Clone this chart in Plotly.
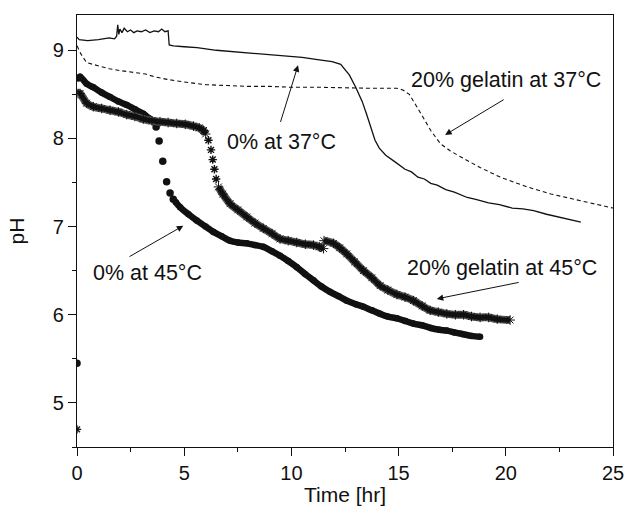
import plotly.graph_objects as go

# ---------------- data ----------------
# 0% at 37°C (solid line)
s37_t = [0, 0.1, 0.5, 1.0, 1.5, 1.75, 1.85, 1.9, 1.95, 2.0, 2.1, 2.2, 2.35, 2.5, 2.65, 2.8,
         3.0, 3.2, 3.4, 3.6, 3.8, 3.95, 4.1, 4.25, 4.3, 4.5, 5.0, 5.6, 6.5, 7.5, 8.5, 9.5,
         10.5, 11.3, 11.9, 12.3, 12.7, 13.0, 13.3, 13.5, 13.7, 13.9, 14.1, 14.4, 14.8, 15.3,
         15.6, 15.9, 16.2, 16.5, 16.8, 17.2, 17.6, 18.2, 18.6, 19.2, 19.7, 20.3, 20.8, 21.3,
         21.9, 22.4, 23.0, 23.5]
s37_ph = [9.15, 9.12, 9.11, 9.12, 9.14, 9.13, 9.16, 9.29, 9.18, 9.24, 9.20, 9.25, 9.21, 9.23,
          9.20, 9.22, 9.21, 9.23, 9.20, 9.22, 9.21, 9.24, 9.21, 9.22, 9.06, 9.05, 9.04, 9.03,
          9.00, 8.98, 8.96, 8.94, 8.92, 8.89, 8.87, 8.84, 8.72, 8.58, 8.42, 8.28, 8.12, 7.98,
          7.89, 7.81, 7.74, 7.65, 7.62, 7.56, 7.54, 7.49, 7.47, 7.42, 7.39, 7.33, 7.31, 7.27,
          7.25, 7.21, 7.20, 7.18, 7.14, 7.11, 7.08, 7.05]

# 20% gelatin at 37°C (dashed line)
g37_t = [0, 0.2, 0.45, 1.0, 1.5, 2.0, 2.6, 3.2, 3.6, 4.2, 5.0, 6.0, 7.0, 8.0, 9.0, 10.0, 11.3,
         12.5, 13.5, 14.5, 14.9, 15.2, 15.5, 15.85, 16.2, 16.5, 16.95, 17.4, 17.9, 18.8, 19.75,
         21.0, 22.1, 23.5, 25.0]
g37_ph = [9.05, 8.95, 8.86, 8.82, 8.79, 8.77, 8.75, 8.73, 8.70, 8.67, 8.64, 8.61, 8.60, 8.59,
          8.59, 8.58, 8.58, 8.57, 8.57, 8.57, 8.57, 8.55, 8.50, 8.36, 8.22, 8.09, 7.94, 7.86,
          7.79, 7.67, 7.56, 7.45, 7.37, 7.29, 7.21]

# 0% at 45°C (filled circles)
c45_t_start = [0]
c45_ph_start = [5.45]
c45_t_a = [0.05, 0.14, 0.45, 0.76, 1.15, 1.54, 1.93, 2.32, 2.7, 3.09, 3.35, 3.56]
c45_ph_a = [8.68, 8.70, 8.62, 8.58, 8.52, 8.47, 8.42, 8.38, 8.33, 8.28, 8.23, 8.19]
c45_t_jump = [3.69, 3.83, 4.0, 4.18, 4.34, 4.49]
c45_ph_jump = [8.13, 7.97, 7.74, 7.51, 7.38, 7.31]
c45_t_b = [4.6, 4.81, 5.2, 5.58, 6.0, 6.36, 6.75, 7.14, 7.5, 7.92, 8.3, 8.69, 9.1, 9.47, 9.85,
           10.25, 10.65, 11.03, 11.4, 11.8, 12.2, 12.58, 13.0, 13.36, 13.75, 14.14, 14.5,
           14.92, 15.3, 15.69, 16.1, 16.5, 16.9, 17.25, 17.6, 18.0, 18.4, 18.8]
c45_ph_b = [7.28, 7.22, 7.14, 7.07, 7.00, 6.94, 6.89, 6.84, 6.82, 6.81, 6.79, 6.77, 6.72, 6.67,
            6.61, 6.54, 6.46, 6.39, 6.32, 6.26, 6.21, 6.16, 6.12, 6.09, 6.05, 6.01, 5.98, 5.96,
            5.93, 5.90, 5.88, 5.85, 5.83, 5.82, 5.80, 5.78, 5.76, 5.75]

# 20% gelatin at 45°C (asterisks)
g45_t_start = [0]
g45_ph_start = [4.7]
g45_t_a = [0.05, 0.14, 0.45, 0.76, 1.15, 1.54, 1.93, 2.32, 2.7, 3.09, 3.5, 3.87, 4.25, 4.65,
           5.05, 5.43, 5.7, 5.9, 6.0]
g45_ph_a = [8.51, 8.51, 8.40, 8.36, 8.34, 8.32, 8.30, 8.27, 8.25, 8.22, 8.20, 8.19, 8.18, 8.17,
            8.16, 8.14, 8.12, 8.09, 8.05]
g45_t_jump = [6.13, 6.25, 6.33, 6.41, 6.49]
g45_ph_jump = [7.98, 7.87, 7.76, 7.65, 7.54]
g45_t_b = [6.6, 6.8, 7.14, 7.5, 7.92, 8.3, 8.69, 9.1, 9.47, 9.85, 10.25, 10.65, 11.03, 11.3, 11.5]
g45_ph_b = [7.45, 7.37, 7.26, 7.19, 7.11, 7.04, 6.98, 6.92, 6.86, 6.84, 6.82, 6.80, 6.79, 6.77, 6.75]
g45_t_c = [11.52, 11.96, 12.25, 12.58, 12.95, 13.36, 13.75, 14.14, 14.5, 14.92, 15.3, 15.69,
           16.1, 16.47, 16.85, 17.25, 17.65, 18.03, 18.4, 18.8, 19.2, 19.6, 20.2]
g45_ph_c = [6.84, 6.81, 6.76, 6.69, 6.60, 6.50, 6.42, 6.33, 6.28, 6.23, 6.20, 6.16, 6.10, 6.05,
            6.03, 6.01, 6.00, 6.00, 5.98, 5.97, 5.97, 5.95, 5.94]

x_ticks = [0, 5, 10, 15, 20, 25]
y_ticks = [5, 6, 7, 8, 9]

FONT = "Liberation Sans, Arial, Helvetica, sans-serif"
INK = "#111111"

fig = go.Figure()

# solid & dashed lines
fig.add_trace(go.Scatter(x=s37_t, y=s37_ph, mode="lines",
                         line=dict(color=INK, width=1.3), hoverinfo="skip"))
fig.add_trace(go.Scatter(x=g37_t, y=g37_ph, mode="lines",
                         line=dict(color=INK, width=1.1, dash="4px,3px"), hoverinfo="skip"))

# circles series
for tx, ty in [(c45_t_a, c45_ph_a), (c45_t_b, c45_ph_b)]:
    fig.add_trace(go.Scatter(x=tx, y=ty, mode="lines+markers",
                             line=dict(color=INK, width=6.5, shape="spline"),
                             marker=dict(symbol="circle", size=6.5, color=INK),
                             hoverinfo="skip"))
for tx, ty in [(c45_t_start, c45_ph_start), (c45_t_jump, c45_ph_jump)]:
    fig.add_trace(go.Scatter(x=tx, y=ty, mode="markers",
                             marker=dict(symbol="circle", size=7.5, color=INK),
                             hoverinfo="skip"))

# asterisk series
for tx, ty in [(g45_t_a, g45_ph_a), (g45_t_b, g45_ph_b), (g45_t_c, g45_ph_c)]:
    fig.add_trace(go.Scatter(x=tx, y=ty, mode="lines",
                             line=dict(color="#555555", width=8, shape="spline"),
                             hoverinfo="skip"))
    fig.add_trace(go.Scatter(x=tx, y=ty, mode="lines+markers",
                             line=dict(color=INK, width=5, shape="spline"),
                             marker=dict(symbol="asterisk-open", size=8, color=INK,
                                         line=dict(color=INK, width=1)),
                             hoverinfo="skip"))
for tx, ty in [(g45_t_start, g45_ph_start), (g45_t_jump, g45_ph_jump)]:
    fig.add_trace(go.Scatter(x=tx, y=ty, mode="markers",
                             marker=dict(symbol="asterisk-open", size=7, color=INK,
                                         line=dict(color=INK, width=1.4)),
                             hoverinfo="skip"))

# annotations: arrows (head at x,y; tail at ax,ay) and labels
arrows = [
    (10.31, 8.83, 9.47, 8.17),
    (17.17, 8.04, 19.97, 8.45),
    (4.96, 7.01, 2.38, 6.65),
    (16.78, 6.18, 20.67, 6.37),
]
for hx, hy, tx, ty in arrows:
    fig.add_annotation(x=hx, y=hy, ax=tx, ay=ty, xref="x", yref="y", axref="x", ayref="y",
                       text="", showarrow=True, arrowhead=2, arrowsize=1.3,
                       arrowwidth=1, arrowcolor=INK)

labels = [
    ("0% at 37°C", 9.52, 7.96),
    ("20% gelatin at 37°C", 20.02, 8.66),
    ("0% at 45°C", 3.31, 6.47),
    ("20% gelatin at 45°C", 19.83, 6.53),
]
for txt, lx, ly in labels:
    fig.add_annotation(x=lx, y=ly, xref="x", yref="y", text=txt, showarrow=False,
                       font=dict(family=FONT, size=21.5, color=INK))

fig.update_layout(
    width=627, height=511,
    margin=dict(l=77, r=14, t=15, b=64, autoexpand=False),
    paper_bgcolor="white", plot_bgcolor="white",
    showlegend=False,
    font=dict(family=FONT, size=20, color=INK),
)
fig.update_xaxes(
    range=[0, 25], tickvals=x_ticks, ticktext=[str(v) for v in x_ticks],
    showgrid=False, zeroline=False, automargin=False,
    showline=True, linecolor=INK, linewidth=1.2, mirror=True,
    ticks="outside", ticklen=8, tickwidth=1.2, tickcolor=INK,
    minor=dict(dtick=2.5, tick0=0, ticks="outside", ticklen=4, tickwidth=1.2, tickcolor=INK),
    title=dict(text="Time [hr]", font=dict(family=FONT, size=21), standoff=4),
    tickfont=dict(family=FONT, size=20),
)
fig.update_yaxes(
    range=[4.5, 9.4], tickvals=y_ticks, ticktext=[str(v) for v in y_ticks],
    showgrid=False, zeroline=False, automargin=False,
    showline=True, linecolor=INK, linewidth=1.2, mirror=True,
    ticks="outside", ticklen=8, tickwidth=1.2, tickcolor=INK,
    minor=dict(dtick=0.5, tick0=0, ticks="outside", ticklen=4, tickwidth=1.2, tickcolor=INK),
    title=dict(text="pH", font=dict(family=FONT, size=21), standoff=22),
    tickfont=dict(family=FONT, size=20),
)

# remove the page's default body margin so the 627x511 figure fills the window exactly
fig.write_html("out.html",
               config={"displayModeBar": False},
               post_script="document.body.style.margin='0';document.body.style.overflow='hidden';")
